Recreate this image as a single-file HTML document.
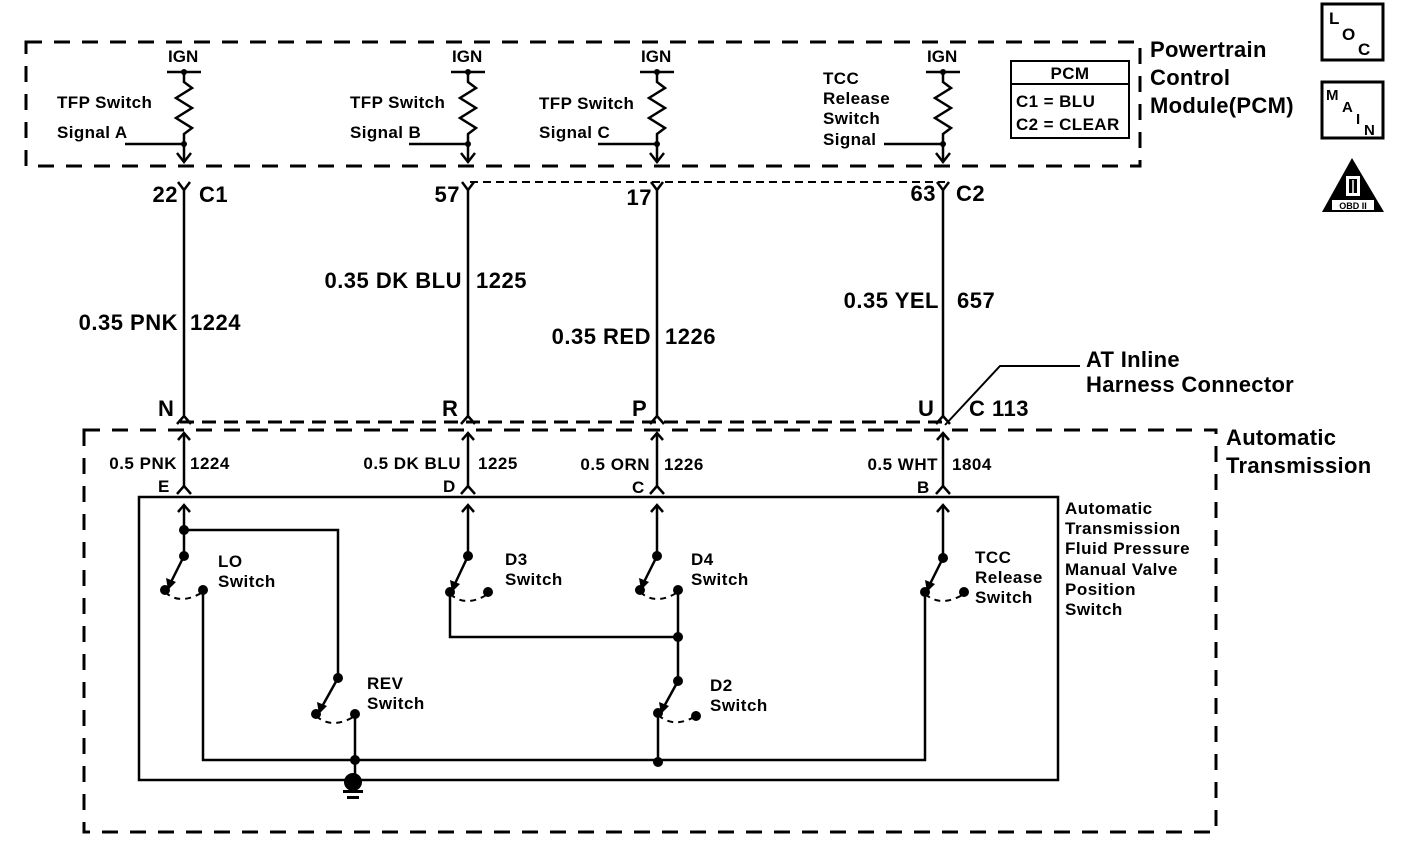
<!DOCTYPE html>
<html><head><meta charset="utf-8"><style>
html,body{margin:0;padding:0;background:#fff;}
svg{display:block;}
text{font-family:"Liberation Sans",Arial,sans-serif;fill:#000;}
.b{font-weight:bold;}
</style></head><body>
<svg width="1408" height="856" viewBox="0 0 1408 856" xmlns="http://www.w3.org/2000/svg">
<g fill="none" stroke="#000">
<rect x="26" y="42" width="1114" height="124" stroke-width="3" stroke-dasharray="16,12"/>
<rect x="84" y="430" width="1132" height="402" stroke-width="3" stroke-dasharray="16,12"/>
<line x1="180" y1="422" x2="945" y2="422" stroke-width="3" stroke-dasharray="14,8"/>
<line x1="470" y1="182" x2="945" y2="182" stroke-width="2" stroke-dasharray="8,5"/>
<rect x="139" y="497" width="919" height="283" stroke-width="2.5"/>
</g>

<g stroke="#000" stroke-width="2.5" fill="none">
 <g id="c1">
  <line x1="167" y1="72" x2="201" y2="72"/>
  <polyline points="184,72 184,82 192,88 176,98 192,108 176,118 192,128 184,134 184,160"/>
  <polyline points="177,153 184,162 191,153"/>
  <line x1="125" y1="144" x2="184" y2="144"/>
 </g>
 <use href="#c1" transform="translate(284,0)"/>
 <use href="#c1" transform="translate(473,0)"/>
 <use href="#c1" transform="translate(759,0)"/>
</g>
<g fill="#000">
 <circle cx="184" cy="72" r="3"/><circle cx="184" cy="144" r="3"/>
 <circle cx="468" cy="72" r="3"/><circle cx="468" cy="144" r="3"/>
 <circle cx="657" cy="72" r="3"/><circle cx="657" cy="144" r="3"/>
 <circle cx="943" cy="72" r="3"/><circle cx="943" cy="144" r="3"/>
</g>

<g stroke="#000" stroke-width="2.5" fill="none">
 <g id="w1">
  <polyline points="178,182 184,190 190,182"/>
  <line x1="184" y1="190" x2="184" y2="418"/>
  <polyline points="177,424 184,416 191,424"/>
  <line x1="184" y1="434" x2="184" y2="488"/>
  <polyline points="178,440 184,433 190,440"/>
  <polyline points="177,494 184,486 191,494"/>
  <line x1="184" y1="505" x2="184" y2="556"/>
  <polyline points="178,512 184,505 190,512"/>
 </g>
 <use href="#w1" transform="translate(284,0)"/>
 <use href="#w1" transform="translate(473,0)"/>
 <use href="#w1" transform="translate(759,0)"/>
</g>

<g stroke="#000" stroke-width="2.5" fill="none">
 <polyline points="184,530 338,530 338,678"/>
 <line x1="184" y1="556" x2="168" y2="588"/>
 <line x1="468" y1="556" x2="452" y2="590"/>
 <line x1="657" y1="556" x2="641" y2="588"/>
 <line x1="943" y1="558" x2="927" y2="590"/>
 <line x1="338" y1="678" x2="319" y2="712"/>
 <line x1="678" y1="681" x2="661" y2="712"/>
 <polyline points="203,590 203,760 925,760 925,592"/>
 <line x1="355" y1="714" x2="355" y2="780"/>
 <polyline points="450,592 450,637 678,637"/>
 <line x1="678" y1="590" x2="678" y2="681"/>
 <line x1="658" y1="713" x2="658" y2="760"/>
</g>
<g stroke="#000" stroke-width="2" fill="none" stroke-dasharray="6,5">
 <path d="M165,592 Q180,606 203,592"/>
 <path d="M450,594 Q466,608 488,594"/>
 <path d="M640,592 Q656,606 678,592"/>
 <path d="M925,594 Q941,608 964,594"/>
 <path d="M316,716 Q332,730 355,716"/>
 <path d="M658,715 Q674,729 696,716"/>
</g>
<g fill="#000">
 <circle cx="184" cy="530" r="5"/><circle cx="184" cy="556" r="5"/><circle cx="165" cy="590" r="5"/><circle cx="203" cy="590" r="5"/>
 <circle cx="468" cy="556" r="5"/><circle cx="450" cy="592" r="5"/><circle cx="488" cy="592" r="5"/>
 <circle cx="657" cy="556" r="5"/><circle cx="640" cy="590" r="5"/><circle cx="678" cy="590" r="5"/>
 <circle cx="943" cy="558" r="5"/><circle cx="925" cy="592" r="5"/><circle cx="964" cy="592" r="5"/>
 <circle cx="338" cy="678" r="5"/><circle cx="316" cy="714" r="5"/><circle cx="355" cy="714" r="5"/>
 <circle cx="678" cy="637" r="5"/><circle cx="678" cy="681" r="5"/><circle cx="658" cy="713" r="5"/><circle cx="696" cy="716" r="5"/>
 <circle cx="355" cy="760" r="5"/><circle cx="658" cy="762" r="5"/>
 <circle cx="353" cy="782" r="9"/>
 <rect x="343" y="790" width="20" height="3"/>
 <rect x="347" y="796" width="12" height="3"/>
</g>
<g fill="#000">
 <polygon points="168,590 166,578 176,582"/>
 <polygon points="452,592 450,580 460,584"/>
 <polygon points="641,590 639,578 649,582"/>
 <polygon points="927,592 925,580 935,584"/>
 <polygon points="319,714 317,702 327,706"/>
 <polygon points="661,714 659,702 669,706"/>
</g>

<polyline points="945,425 1000,366 1080,366" stroke="#000" stroke-width="2" fill="none"/>

<rect x="1011" y="61" width="118" height="77" fill="none" stroke="#000" stroke-width="2"/>
<line x1="1011" y1="84" x2="1129" y2="84" stroke="#000" stroke-width="2"/>

<rect x="1322" y="4" width="61" height="56" fill="none" stroke="#000" stroke-width="3"/>
<rect x="1322" y="82" width="61" height="56" fill="none" stroke="#000" stroke-width="3"/>
<polygon points="1352,158 1322,212 1384,212" fill="#000"/>
<rect x="1332" y="200" width="42" height="10" fill="#fff"/>
<rect x="1346" y="176" width="14" height="20" fill="#fff"/>
<rect x="1349" y="179" width="8" height="14" fill="#000"/>
<line x1="1353" y1="180" x2="1353" y2="193" stroke="#fff" stroke-width="1.5"/>

<g class="b" font-size="17">
 <text x="168" y="62">IGN</text><text x="452" y="62">IGN</text><text x="641" y="62">IGN</text><text x="927" y="62">IGN</text>
</g>
<g font-size="17" class="b" letter-spacing="0.4">
 <text x="57" y="108">TFP Switch</text><text x="57" y="138">Signal  A</text>
 <text x="350" y="108">TFP Switch</text><text x="350" y="138">Signal  B</text>
 <text x="539" y="109">TFP Switch</text><text x="539" y="138">Signal  C</text>
 <text x="823" y="84">TCC</text><text x="823" y="104">Release</text><text x="823" y="124">Switch</text><text x="823" y="145">Signal</text>
 <text x="1070" y="79" text-anchor="middle">PCM</text>
 <text x="1016" y="107">C1 = BLU</text><text x="1016" y="130">C2 = CLEAR</text>
</g>
<g font-size="22" class="b" letter-spacing="0.3">
 <text x="1150" y="57">Powertrain</text><text x="1150" y="85">Control</text><text x="1150" y="113">Module(PCM)</text>
 <text x="1086" y="367">AT Inline</text><text x="1086" y="392">Harness Connector</text>
 <text x="1226" y="445">Automatic</text><text x="1226" y="473">Transmission</text>
</g>
<g font-size="22" class="b" letter-spacing="0.5">
 <text x="178" y="202" text-anchor="end">22</text><text x="199" y="202">C1</text>
 <text x="460" y="202" text-anchor="end">57</text>
 <text x="652" y="205" text-anchor="end">17</text>
 <text x="936" y="201" text-anchor="end">63</text><text x="956" y="201">C2</text>
 <text x="178" y="330" text-anchor="end">0.35 PNK</text><text x="190" y="330">1224</text>
 <text x="462" y="288" text-anchor="end">0.35 DK BLU</text><text x="476" y="288">1225</text>
 <text x="651" y="344" text-anchor="end">0.35 RED</text><text x="665" y="344">1226</text>
 <text x="939" y="308" text-anchor="end">0.35 YEL</text><text x="957" y="308">657</text>
 <text x="158" y="416">N</text><text x="442" y="416">R</text><text x="632" y="416">P</text><text x="918" y="416">U</text>
 <text x="969" y="416">C 113</text>
</g>
<g font-size="17" class="b" letter-spacing="0.5">
 <text x="177" y="469" text-anchor="end">0.5 PNK</text><text x="190" y="469">1224</text>
 <text x="461" y="469" text-anchor="end">0.5 DK BLU</text><text x="478" y="469">1225</text>
 <text x="650" y="470" text-anchor="end">0.5 ORN</text><text x="664" y="470">1226</text>
 <text x="938" y="470" text-anchor="end">0.5 WHT</text><text x="952" y="470">1804</text>
 <text x="158" y="492">E</text><text x="443" y="492">D</text><text x="632" y="493">C</text><text x="917" y="493">B</text>
 <text x="218" y="567">LO</text><text x="218" y="587">Switch</text>
 <text x="505" y="565">D3</text><text x="505" y="585">Switch</text>
 <text x="691" y="565">D4</text><text x="691" y="585">Switch</text>
 <text x="975" y="563">TCC</text><text x="975" y="583">Release</text><text x="975" y="603">Switch</text>
 <text x="367" y="689">REV</text><text x="367" y="709">Switch</text>
 <text x="710" y="691">D2</text><text x="710" y="711">Switch</text>
 <text x="1065" y="514">Automatic</text><text x="1065" y="534">Transmission</text><text x="1065" y="554">Fluid Pressure</text>
 <text x="1065" y="575">Manual Valve</text><text x="1065" y="595">Position</text><text x="1065" y="615">Switch</text>
</g>
<g class="b">
 <text x="1329" y="24" font-size="17">L</text><text x="1342" y="40" font-size="17">O</text><text x="1358" y="55" font-size="17">C</text>
 <text x="1326" y="100" font-size="15">M</text><text x="1342" y="112" font-size="15">A</text><text x="1356" y="124" font-size="15">I</text><text x="1364" y="135" font-size="15">N</text>
 <text x="1353" y="209" font-size="9" text-anchor="middle">OBD II</text>
</g>
</svg>
</body></html>
